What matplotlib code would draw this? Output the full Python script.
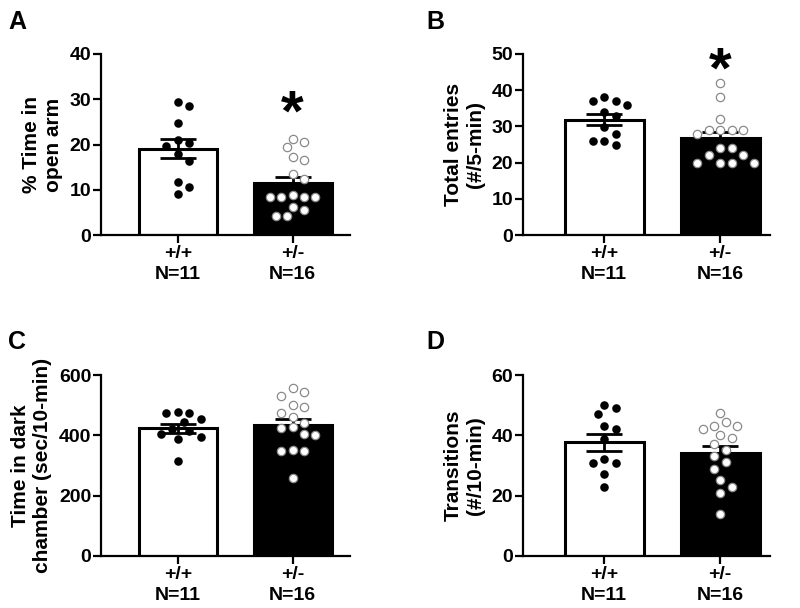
import numpy as np
import matplotlib
matplotlib.use('Agg')
import matplotlib.pyplot as plt

plt.rcParams['font.family'] = ['Liberation Sans', 'DejaVu Sans']
plt.rcParams['font.weight'] = 'bold'

# data, one list per group
groups = ['+/+\nN=11', '+/-\nN=16']

a_wt = [29.4, 28.6, 24.8, 21.1, 20.4, 19.6, 18.0, 16.3, 11.7, 10.5, 9.0]
a_het = [21.3, 20.6, 19.4, 17.2, 16.5, 13.5, 12.3, 8.8, 8.5, 8.4, 8.4, 8.3, 6.1, 5.5, 4.2, 4.2]
b_wt = [38.0, 37.0, 37.0, 36.0, 34.1, 33.0, 29.9, 27.9, 26.0, 26.0, 24.9]
b_het = [41.9, 38.2, 32.0, 29.0, 29.0, 29.0, 29.0, 27.9, 24.0, 24.0, 22.0, 22.0, 20.0, 20.0, 20.0, 20.0]
c_wt = [477, 473, 473, 455, 445, 420, 414, 403, 393, 387, 315]
c_het = [556, 543, 530, 500, 495, 475, 460, 440, 426, 425, 403, 401, 351, 349, 349, 258]
d_wt = [50.2, 49.1, 47.1, 43.0, 42.1, 38.9, 32.0, 30.9, 30.9, 27.1, 23.0]
d_het = [47.3, 44.3, 43.2, 43.1, 42.0, 40.1, 39.0, 37.1, 35.1, 33.1, 31.1, 28.9, 25.2, 23.0, 21.0, 13.9]

# significance star height (data units), None = no star
star_a = 28.5
star_b = 47.5

panels = [
    ('A', '% Time in\nopen arm', a_wt, a_het, 40, 10, star_a),
    ('B', 'Total entries\n(#/5-min)', b_wt, b_het, 50, 10, star_b),
    ('C', 'Time in dark\nchamber (sec/10-min)', c_wt, c_het, 600, 200, None),
    ('D', 'Transitions\n(#/10-min)', d_wt, d_het, 60, 20, None),
]

W, H = 800, 608
fig = plt.figure(figsize=(W / 100, H / 100), dpi=100)

# axes boxes in pixels: left, top, right, bottom
boxes = [(101, 54, 350, 235), (523, 54, 770, 235),
         (101, 375, 350, 556), (523, 375, 770, 556)]
xlims = [(-0.67, 1.5), (-0.70, 1.43), (-0.67, 1.5), (-0.70, 1.43)]
letter_pos = [(8, 10), (426, 10), (8, 330), (426, 330)]


def swarm(ax, xc, vals, diam=10.0, step=5.7):
    # simple beeswarm in pixel space
    pts = ax.transData.transform([(xc, v) for v in vals])
    placed = []
    out = []
    for px, py in pts:
        k = 0
        done = False
        while not done:
            cands = [0] if k == 0 else [k, -k]
            for c in cands:
                x = px + c * step
                if all((x - qx) ** 2 + (py - qy) ** 2 >= diam ** 2 for qx, qy in placed):
                    placed.append((x, py))
                    out.append(x)
                    done = True
                    break
            k += 1
    inv = ax.transData.inverted()
    return [inv.transform((x, py))[0] for x, (_, py) in zip(out, pts)]


for (letter, ylab, wt, het, ymax, ystep, star), box, xl, lp in zip(panels, boxes, xlims, letter_pos):
    l, t, r, b = box
    ax = fig.add_axes([l / W, 1 - b / H, (r - l) / W, (b - t) / H])
    ax.set_xlim(*xl)
    ax.set_ylim(0, ymax)

    means = [np.mean(wt), np.mean(het)]
    sems = [np.std(wt, ddof=1) / np.sqrt(len(wt)), np.std(het, ddof=1) / np.sqrt(len(het))]

    ax.bar([0, 1], means, width=0.68, color=['white', 'black'], edgecolor='black',
           linewidth=2.2, zorder=2)
    ax.errorbar([0, 1], means, yerr=sems, fmt='none', ecolor='black', elinewidth=2,
                capsize=13, capthick=2, zorder=3)

    xs = swarm(ax, 0, wt)
    ax.scatter(xs, wt, s=38, color='black', zorder=4, clip_on=False, linewidths=0)
    xs = swarm(ax, 1, het)
    ax.scatter(xs, het, s=36, facecolor='white', edgecolor='#8a8a8a', linewidths=0.9,
               zorder=4, clip_on=False)

    if star is not None:
        ax.annotate('*', xy=(1, star), xytext=(0, -18), textcoords='offset points',
                    ha='center', va='baseline', fontsize=42, fontweight='bold')

    ax.set_yticks(np.arange(0, ymax + 1, ystep))
    ax.set_xticks([0, 1])
    ax.set_xticklabels(groups, fontsize=14, fontweight='bold', linespacing=1.3)
    ax.tick_params(axis='y', labelsize=14, width=1.6, length=6, pad=1)
    ax.tick_params(axis='x', width=1.6, length=6, pad=1.5)
    for lab in ax.get_yticklabels():
        lab.set_fontweight('bold')
    ax.set_ylabel(ylab, fontsize=15, fontweight='bold', labelpad=5, linespacing=1.2)

    for s in ['top', 'right']:
        ax.spines[s].set_visible(False)
    for s in ['left', 'bottom']:
        ax.spines[s].set_linewidth(1.6)

    fig.text(lp[0] / W, 1 - lp[1] / H, letter, fontsize=18, fontweight='bold',
             ha='left', va='top')

fig.savefig('out.png', dpi=100)
